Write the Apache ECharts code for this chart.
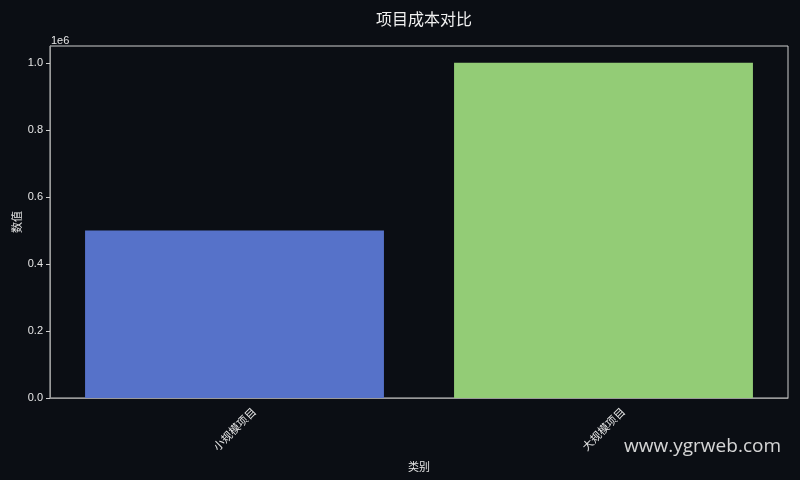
<!DOCTYPE html>
<html>
<head>
<meta charset="utf-8">
<script src="https://cdn.jsdelivr.net/npm/echarts@6/dist/echarts.min.js"></script>
<style>
html,body{margin:0;padding:0;background:#0b0e14;}
#chart{width:800px;height:480px;}
</style>
</head>
<body>
<div id="chart"></div>
<script>
const categories = ['小规模项目', '大规模项目'];
const values = [500000, 1000000];
const barColors = ['#5672c9', '#93cc76'];
const yTicks = [0, 200000, 400000, 600000, 800000, 1000000];

const chart = echarts.init(document.getElementById('chart'));
const txt = '#e6e6e6';
const cjk = '"Noto Sans CJK SC", "DejaVu Sans", sans-serif';
const latin = '"Liberation Sans", Arial, sans-serif';
chart.setOption({
  backgroundColor: '#0b0e14',
  animation: false,
  title: {
    text: '项目成本对比',
    left: 419,
    textAlign: 'center',
    top: 6,
    textStyle: {color: '#f0f0f0', fontSize: 16, fontWeight: 'normal', fontFamily: cjk}
  },
  grid: {left: 50, right: 12, top: 46, bottom: 82, show: true, borderColor: '#cfcfcf', borderWidth: 1,
    containLabel: false, outerBoundsMode: 'none'},
  xAxis: {
    type: 'category',
    data: categories,
    name: '类别',
    nameLocation: 'middle',
    nameGap: 63,
    nameMoveOverlap: false,
    nameTextStyle: {color: txt, fontSize: 11, fontFamily: cjk},
    axisLine: {lineStyle: {color: '#9a9a9a', width: 1}},
    axisTick: {alignWithLabel: true, length: 4, lineStyle: {color: '#cfcfcf'}},
    axisLabel: {rotate: 45, color: txt, fontSize: 11, fontFamily: cjk, margin: 31,
      align: 'center', verticalAlign: 'middle'}
  },
  yAxis: {
    type: 'value',
    min: 0,
    max: 1050000,
    interval: 200000,
    name: '数值',
    nameLocation: 'middle',
    nameGap: 28,
    nameMoveOverlap: false,
    nameTextStyle: {color: txt, fontSize: 11, fontFamily: cjk},
    splitLine: {show: false},
    axisLine: {show: true, lineStyle: {color: '#9a9a9a', width: 1}},
    axisTick: {show: true, length: 4, lineStyle: {color: '#cfcfcf'}, customValues: yTicks},
    axisLabel: {color: txt, fontSize: 11, fontFamily: latin, margin: 7,
      customValues: yTicks,
      formatter: v => (v / 1e6).toFixed(1)}
  },
  series: [{
    type: 'bar',
    barWidth: '81%',
    data: values.map((v, i) => ({value: v, itemStyle: {color: barColors[i]}}))
  }],
  graphic: [
    {type: 'text', left: 51, top: 35, style: {text: '1e6', fill: txt, fontSize: 11, fontFamily: latin}},
    {type: 'text', right: 19, top: 437, style: {text: 'www.ygrweb.com', fill: 'rgba(235,235,235,0.9)', fontSize: 19, fontFamily: '"Open Sans", "Noto Sans", sans-serif'}}
  ]
});
</script>
</body>
</html>
